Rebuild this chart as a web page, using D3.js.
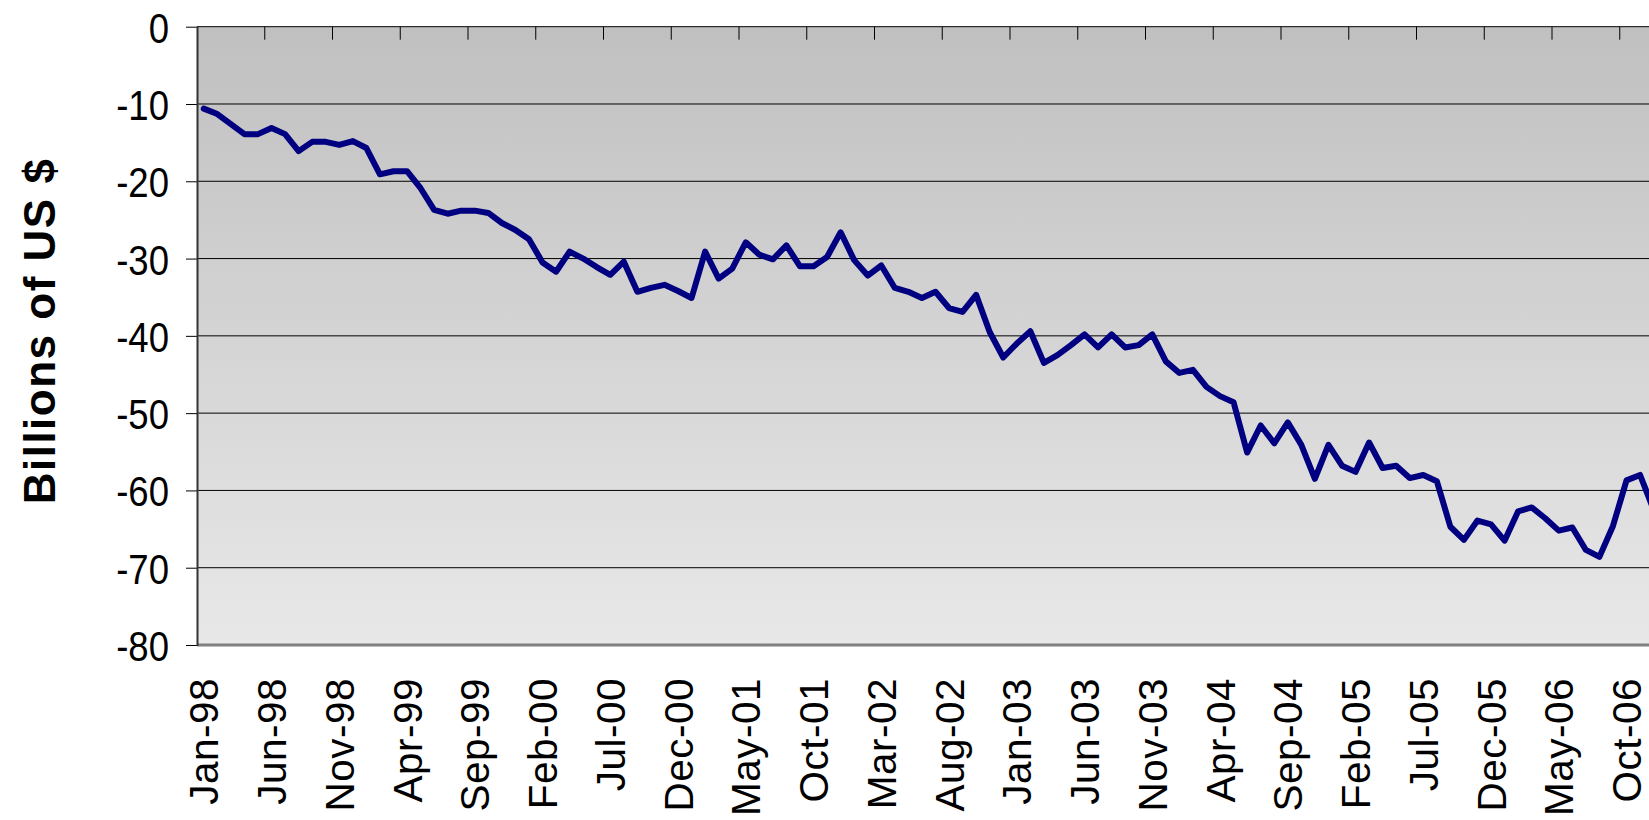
<!DOCTYPE html>
<html>
<head>
<meta charset="utf-8">
<script src="https://cdn.jsdelivr.net/npm/d3@7"></script>
<style>
  html, body { margin: 0; padding: 0; background: #ffffff; overflow: hidden; }
  svg { display: block; }
  text { font-family: "Liberation Sans", Arial, sans-serif; fill: #000; }
</style>
</head>
<body>
<svg id="chart" width="1649" height="820"></svg>
<script>
// Monthly balance, billions of US $, starting Jan 1998
const startMonth = new Date(1998, 0, 1);
const balance = [
  -10.6, -11.3, -12.6, -13.9, -13.9, -13.1, -13.9, -16.1, -14.9, -14.9, -15.3, -14.8,
  -15.7, -19.1, -18.7, -18.7, -20.9, -23.7, -24.2, -23.8, -23.8, -24.1, -25.4, -26.3,
  -27.5, -30.5, -31.7, -29.1, -30.0, -31.1, -32.1, -30.4, -34.3, -33.8, -33.4, -34.2,
  -35.1, -29.1, -32.6, -31.3, -27.9, -29.5, -30.1, -28.3, -31.0, -31.0, -29.8, -26.6,
  -30.2, -32.2, -30.9, -33.8, -34.3, -35.1, -34.3, -36.4, -36.9, -34.7, -39.5, -42.8,
  -41.0, -39.4, -43.5, -42.5, -41.2, -39.8, -41.5, -39.8, -41.5, -41.2, -39.8, -43.3,
  -44.8, -44.4, -46.6, -47.8, -48.6, -55.1, -51.6, -53.9, -51.2, -54.1, -58.5, -54.1,
  -56.8, -57.6, -53.8, -57.1, -56.8, -58.4, -58.0, -58.8, -64.7, -66.4, -63.9, -64.4,
  -66.5, -62.7, -62.2, -63.6, -65.2, -64.8, -67.7, -68.6, -64.6, -58.7, -58.0, -62.5
];
const yTicks = [0, -10, -20, -30, -40, -50, -60, -70, -80];
const labelEvery = 5;
const yTitle = "Billions of US $";

const months = balance.map((_, i) => d3.timeMonth.offset(startMonth, i));
const fmt = d3.timeFormat("%b-%y");

const svg = d3.select("#chart");
const plotLeft = 197, plotTop = 26.7, plotBottom = 645, step = 13.55;

const x = d3.scaleBand()
  .domain(months)
  .range([plotLeft, plotLeft + months.length * step])
  .paddingInner(0).paddingOuter(0);
const y = d3.scaleLinear().domain([-80, 0]).range([plotBottom, plotTop]);
const cx = d => x(d) + x.bandwidth() / 2;

// plot background gradient
const defs = svg.append("defs");
const grad = defs.append("linearGradient")
  .attr("id", "bg").attr("x1", 0).attr("y1", 0).attr("x2", 0).attr("y2", 1);
grad.append("stop").attr("offset", "0%").attr("stop-color", "#c0c0c0");
grad.append("stop").attr("offset", "100%").attr("stop-color", "#e8e8e8");

const plotRight = x.range()[1];
svg.append("rect")
  .attr("x", plotLeft).attr("y", plotTop)
  .attr("width", plotRight - plotLeft).attr("height", plotBottom - plotTop)
  .attr("fill", "url(#bg)");

// horizontal gridlines
svg.append("g")
  .selectAll("line")
  .data(yTicks.filter(v => v !== -80))
  .join("line")
  .attr("x1", plotLeft).attr("x2", plotRight)
  .attr("y1", d => y(d)).attr("y2", d => y(d))
  .attr("stroke", "#000").attr("stroke-width", 1);

// y axis with outward ticks; plain hyphen for negatives
const yAxis = d3.axisLeft(y).tickValues(yTicks).tickSize(11).tickFormat(d => String(d));
const yg = svg.append("g").attr("transform", `translate(${plotLeft},0)`).call(yAxis);
yg.select(".domain").remove();
yg.selectAll(".tick line").attr("stroke", "#000");
yg.selectAll(".tick text")
  .attr("x", null)
  .attr("font-size", 43)
  .attr("font-family", "'Liberation Sans', Arial, sans-serif")
  .attr("text-anchor", "end")
  .attr("transform", "translate(-28,0) scale(0.85,1)")
  .attr("dy", "0.36em");

// category tick marks along the top edge, every five months
const tickMonths = months.filter((d, i) => i % labelEvery === 0 && i > 0);
svg.append("g")
  .selectAll("line")
  .data(tickMonths)
  .join("line")
  .attr("x1", d => x(d)).attr("x2", d => x(d))
  .attr("y1", plotTop).attr("y2", plotTop + 13)
  .attr("stroke", "#000").attr("stroke-width", 1);

// plot borders
svg.append("line")
  .attr("x1", plotLeft).attr("x2", plotRight)
  .attr("y1", plotBottom).attr("y2", plotBottom)
  .attr("stroke", "#808080").attr("stroke-width", 3);
svg.append("line")
  .attr("x1", plotLeft + 0.5).attr("x2", plotLeft + 0.5)
  .attr("y1", plotTop).attr("y2", plotBottom + 1)
  .attr("stroke", "#333").attr("stroke-width", 2);

// category labels
svg.append("g")
  .selectAll("text")
  .data(months.filter((d, i) => i % labelEvery === 0))
  .join("text")
  .attr("transform", d => `translate(${cx(d)},678) rotate(-90)`)
  .attr("text-anchor", "end")
  .attr("dy", "0.36em")
  .attr("font-size", 40.5)
  .attr("letter-spacing", 0.5)
  .text(d => fmt(d));

// y axis title
svg.append("text")
  .attr("transform", "translate(39,331) rotate(-90)")
  .attr("text-anchor", "middle")
  .attr("dy", "0.36em")
  .attr("font-size", 44)
  .attr("font-weight", "bold")
  .attr("letter-spacing", 1.5)
  .text(yTitle);

// data line
const line = d3.line()
  .x((d, i) => cx(months[i]))
  .y(d => y(d));
svg.append("path")
  .datum(balance)
  .attr("d", line)
  .attr("fill", "none")
  .attr("stroke", "#000080")
  .attr("stroke-width", 6)
  .attr("stroke-linejoin", "round")
  .attr("stroke-linecap", "round");
</script>
</body>
</html>
